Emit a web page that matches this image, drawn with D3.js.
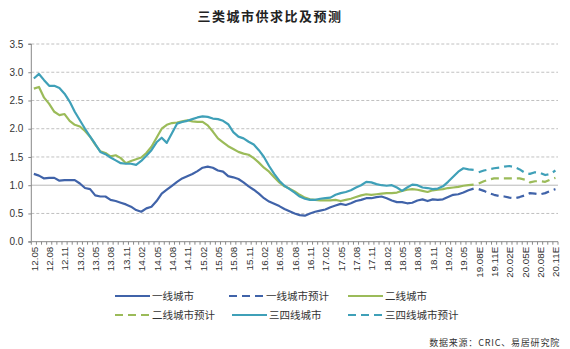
<!DOCTYPE html>
<html><head><meta charset="utf-8">
<script src="https://cdn.jsdelivr.net/npm/d3@7"></script>
<style>body{margin:0;background:#fff;} svg{display:block;}</style>
</head><body>
<svg id="chart" width="570" height="349"></svg>
<script>
const categories = [
"12.05","12.06","12.07","12.08","12.09","12.10","12.11","12.12",
"13.01","13.02","13.03","13.04","13.05","13.06","13.07","13.08","13.09","13.10","13.11","13.12",
"14.01","14.02","14.03","14.04","14.05","14.06","14.07","14.08","14.09","14.10","14.11","14.12",
"15.01","15.02","15.03","15.04","15.05","15.06","15.07","15.08","15.09","15.10","15.11","15.12",
"16.01","16.02","16.03","16.04","16.05","16.06","16.07","16.08","16.09","16.10","16.11","16.12",
"17.01","17.02","17.03","17.04","17.05","17.06","17.07","17.08","17.09","17.10","17.11","17.12",
"18.01","18.02","18.03","18.04","18.05","18.06","18.07","18.08","18.09","18.10","18.11","18.12",
"19.01","19.02","19.03","19.04","19.05","19.06","19.07",
"19.08E","19.09E","19.10E","19.11E","19.12E",
"20.01E","20.02E","20.03E","20.04E","20.05E","20.06E","20.07E","20.08E","20.09E","20.10E","20.11E"];

const tickLabels = ["12.05","12.08","12.11","13.02","13.05","13.08","13.11","14.02","14.05","14.08","14.11",
"15.02","15.05","15.08","15.11","16.02","16.05","16.08","16.11","17.02","17.05","17.08","17.11",
"18.02","18.05","18.08","18.11","19.02","19.05","19.08E","19.11E","20.02E","20.05E","20.08E","20.11E"];

const yTicks = [0, 0.5, 1.0, 1.5, 2.0, 2.5, 3.0, 3.5];

// actual values 12.05 - 19.07
const tier1 = [1.20,1.17,1.12,1.13,1.13,1.08,1.09,1.09,1.09,1.03,
0.95,0.93,0.82,0.80,0.80,0.74,0.72,0.69,0.66,0.62,
0.56,0.53,0.59,0.62,0.72,0.85,0.92,0.99,1.06,1.12,
1.16,1.20,1.25,1.31,1.33,1.31,1.26,1.24,1.16,1.14,
1.11,1.05,0.98,0.92,0.85,0.77,0.71,0.67,0.63,0.58,
0.54,0.50,0.47,0.46,0.50,0.53,0.55,0.57,0.61,0.64,
0.67,0.65,0.68,0.72,0.74,0.77,0.77,0.79,0.80,0.77,
0.73,0.70,0.70,0.68,0.69,0.73,0.75,0.72,0.75,0.74,
0.75,0.79,0.83,0.84,0.87,0.91,0.94];

const tier2 = [2.71,2.74,2.55,2.44,2.30,2.24,2.26,2.14,2.07,2.04,
1.96,1.86,1.72,1.60,1.57,1.51,1.53,1.48,1.39,1.43,
1.46,1.49,1.57,1.68,1.84,2.00,2.07,2.10,2.11,2.13,
2.15,2.13,2.12,2.12,2.06,1.95,1.83,1.76,1.69,1.64,
1.59,1.56,1.54,1.48,1.40,1.31,1.24,1.14,1.05,0.98,
0.94,0.89,0.83,0.78,0.75,0.74,0.73,0.73,0.73,0.74,
0.72,0.74,0.76,0.79,0.82,0.84,0.83,0.84,0.85,0.86,
0.86,0.87,0.90,0.92,0.93,0.92,0.90,0.88,0.91,0.92,
0.93,0.95,0.96,0.97,0.99,1.00,1.01];

const tier34 = [2.89,2.97,2.86,2.76,2.76,2.72,2.62,2.48,2.30,2.15,
2.00,1.86,1.73,1.59,1.55,1.49,1.44,1.39,1.38,1.38,
1.36,1.43,1.52,1.62,1.76,1.84,1.75,1.92,2.09,2.12,
2.14,2.17,2.20,2.22,2.21,2.18,2.17,2.14,2.08,1.94,
1.86,1.83,1.77,1.72,1.62,1.50,1.34,1.20,1.08,0.99,
0.93,0.87,0.80,0.76,0.74,0.74,0.76,0.77,0.78,0.83,
0.86,0.88,0.91,0.96,1.00,1.06,1.05,1.02,1.00,0.99,
1.00,0.96,0.90,0.96,1.01,1.00,0.96,0.95,0.93,0.94,
0.98,1.06,1.15,1.24,1.30,1.28,1.27];

// forecast values 19.08E - 20.11E
const tier1Forecast = [0.93,0.90,0.86,0.83,0.81,0.80,0.78,0.77,0.79,0.82,0.86,0.85,0.84,0.86,0.90,0.93];
const tier2Forecast = [1.03,1.07,1.10,1.12,1.12,1.12,1.12,1.12,1.12,1.10,1.05,1.07,1.07,1.06,1.10,1.13];
const tier34Forecast = [1.23,1.26,1.28,1.30,1.31,1.33,1.34,1.32,1.28,1.22,1.20,1.23,1.22,1.18,1.20,1.26];

const seriesNames = ["一线城市","一线城市预计","二线城市","二线城市预计","三四线城市","三四线城市预计"];
const colors = {t1:"#4063a9", t2:"#9bbb59", t34:"#3fa0b8"};

const svg = d3.select("#chart");
const plotLeft = 31.3, plotRight = 558, plotTop = 44, plotBottom = 241.7;

const x = d3.scaleBand().domain(categories).range([plotLeft, plotRight]).padding(0);
const y = d3.scaleLinear().domain([0, 3.5]).range([plotBottom, plotTop]);
const cx = c => x(c) + x.bandwidth() / 2;

// title
svg.append("text").attr("x", 270).attr("y", 21).attr("text-anchor", "middle")
  .attr("font-family", "Noto Sans CJK SC").attr("font-weight", "bold").attr("font-size", 13)
  .attr("letter-spacing", 1.5).attr("fill", "#222").text("三类城市供求比及预测");

// gridlines
svg.append("g").selectAll("line").data(yTicks.filter(v => v > 0)).join("line")
  .attr("x1", plotLeft).attr("x2", plotRight)
  .attr("y1", d => y(d)).attr("y2", d => y(d))
  .attr("stroke", d => d === 1 ? "#a6a6a6" : "#b0b0b0")
  .attr("stroke-width", 0.8)
  .attr("stroke-dasharray", d => d === 1 ? null : "3,2");

// y axis
const yAxis = d3.axisLeft(y).tickValues(yTicks).tickFormat(d3.format(".1f")).tickSize(3).tickPadding(5);
const gy = svg.append("g").attr("transform", `translate(${plotLeft},0)`).call(yAxis);
gy.select(".domain").attr("stroke", "#888").attr("d", `M-3,${plotTop}H0V${plotBottom}H-3`);
gy.selectAll(".tick line").attr("stroke", "#888");
gy.selectAll("text").attr("font-family", "Liberation Sans").attr("font-size", 10).attr("fill", "#333");

// x axis: minor ticks every month
const xAxis = d3.axisBottom(x).tickValues(categories).tickSize(3).tickFormat("");
const gx = svg.append("g").attr("transform", `translate(0,${plotBottom})`).call(xAxis);
gx.select(".domain").attr("stroke", "#888").attr("d", `M${plotLeft},0H${plotRight}`);
gx.selectAll(".tick line").attr("stroke", "#888").attr("transform", `translate(${-x.bandwidth()/2},0)`);
svg.append("line").attr("x1", plotRight).attr("x2", plotRight).attr("y1", plotBottom).attr("y2", plotBottom + 3).attr("stroke", "#888");

// x labels
svg.append("g").selectAll("text").data(tickLabels).join("text")
  .attr("transform", d => `translate(${cx(d) + 0.5},${plotBottom + 5}) rotate(-90)`)
  .attr("text-anchor", "end").attr("dy", "0.35em")
  .attr("font-family", "Liberation Sans").attr("font-size", 9.8).attr("fill", "#333")
  .text(d => d);

// lines
const line = d3.line().x(d => cx(d.c)).y(d => y(d.v));
const fStart = categories.indexOf("19.08E");
const toPts = (arr, start) => arr.map((v, i) => ({c: categories[start + i], v}));

const series = [
  {vals: tier1, start: 0, color: colors.t1, dash: null},
  {vals: tier2, start: 0, color: colors.t2, dash: null},
  {vals: tier34, start: 0, color: colors.t34, dash: null},
  {vals: tier1Forecast, start: fStart, color: colors.t1, dash: "8,5"},
  {vals: tier2Forecast, start: fStart, color: colors.t2, dash: "8,5"},
  {vals: tier34Forecast, start: fStart, color: colors.t34, dash: "8,5"}
];
svg.append("g").selectAll("path").data(series).join("path")
  .attr("d", s => line(toPts(s.vals, s.start)))
  .attr("fill", "none").attr("stroke", s => s.color).attr("stroke-width", 2.2)
  .attr("stroke-linejoin", "round")
  .attr("stroke-dasharray", s => s.dash);

// legend
const legendItems = [
  {name: seriesNames[0], color: colors.t1, dash: null, x: 115, y: 296},
  {name: seriesNames[1], color: colors.t1, dash: "8,5", x: 229, y: 296},
  {name: seriesNames[2], color: colors.t2, dash: null, x: 348, y: 296},
  {name: seriesNames[3], color: colors.t2, dash: "8,5", x: 115, y: 315},
  {name: seriesNames[4], color: colors.t34, dash: null, x: 232, y: 315},
  {name: seriesNames[5], color: colors.t34, dash: "8,5", x: 348, y: 315}
];
const lg = svg.append("g").selectAll("g").data(legendItems).join("g")
  .attr("transform", d => `translate(${d.x},${d.y})`);
lg.append("line").attr("x1", 0).attr("x2", 35).attr("y1", 0).attr("y2", 0)
  .attr("stroke", d => d.color).attr("stroke-width", 2.2).attr("stroke-dasharray", d => d.dash);
lg.append("text").attr("x", 37).attr("y", 0).attr("dy", "0.35em")
  .attr("font-family", "Noto Sans CJK SC").attr("font-size", 10.5).attr("fill", "#333")
  .text(d => d.name);

// source
svg.append("text").attr("x", 560).attr("y", 346).attr("text-anchor", "end")
  .attr("font-family", "Noto Sans CJK SC").attr("font-size", 9).attr("letter-spacing", 0.8).attr("fill", "#333")
  .text("数据来源：CRIC、易居研究院");
</script>
</body></html>
